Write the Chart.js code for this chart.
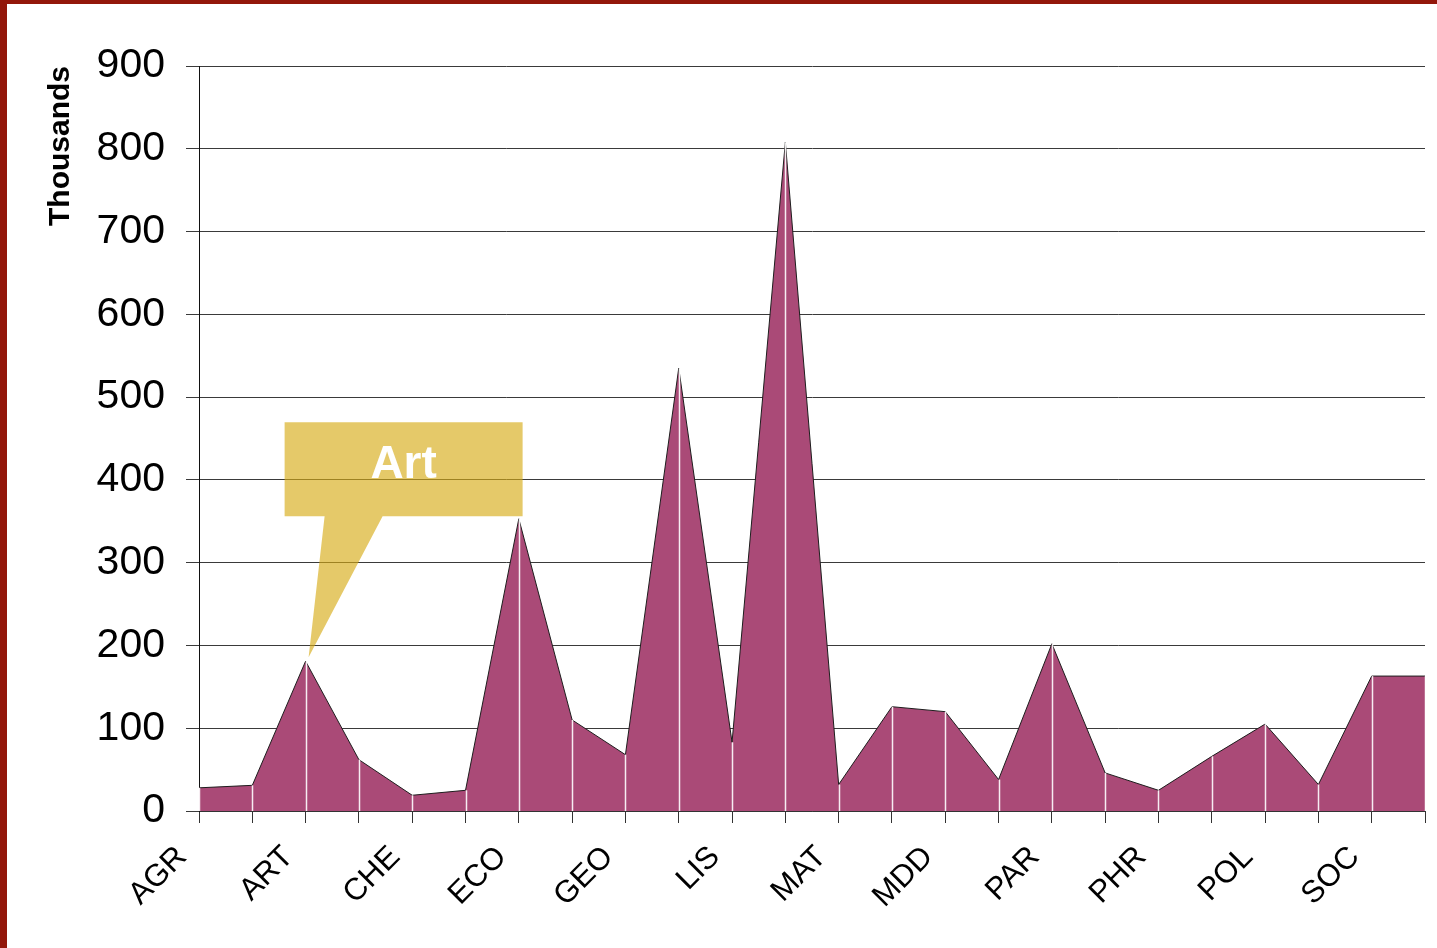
<!DOCTYPE html>
<html>
<head>
<meta charset="utf-8">
<title>Thousands by department</title>
<script src="https://cdn.jsdelivr.net/npm/chart.js@4.4.1/dist/chart.umd.min.js"></script>
<style>
  html, body { margin: 0; padding: 0; background: #fff; }
  #wrap { position: relative; width: 1437px; height: 948px; overflow: hidden; }
  #frame { position: absolute; left: 0; top: 0; right: 0; bottom: 0;
           border-left: 7px solid #93170a; border-top: 4px solid #93170a;
           pointer-events: none; }
  canvas { position: absolute; left: 0; top: 0; }
</style>
</head>
<body>
<div id="wrap">
  <canvas id="areaChart" width="1437" height="948"></canvas>
  <div id="frame"></div>
</div>
<script>
// --- DATA (every other category is labelled) ---
const categories = ['AGR', '', 'ART', '', 'CHE', '', 'ECO', '', 'GEO', '', 'LIS', '',
                    'MAT', '', 'MDD', '', 'PAR', '', 'PHR', '', 'POL', '', 'SOC', ''];
const values = [28, 31, 181, 62, 19, 25, 353, 110, 68, 535, 83, 808,
                32, 126, 120, 38, 202, 46, 25, 66, 105, 32, 163, 163];
const yMin = 0, yMax = 900, yStep = 100;
const yTitle = 'Thousands';
const calloutText = 'Art';
const calloutIndex = 2;

// white drop lines from every point down to the base
const dropLines = {
    id: 'dropLines',
    afterDatasetsDraw(chart) {
        const { ctx, scales: { y } } = chart;
        const base = y.getPixelForValue(0);
        ctx.save();
        ctx.strokeStyle = 'rgba(255,255,255,0.9)';
        ctx.lineWidth = 1.5;
        chart.getDatasetMeta(0).data.forEach(pt => {
            ctx.beginPath();
            ctx.moveTo(Math.round(pt.x) + 0.5, pt.y);
            ctx.lineTo(Math.round(pt.x) + 0.5, base);
            ctx.stroke();
        });
        ctx.restore();
    }
};

// yellow speech-bubble pointing at one point
const callout = {
    id: 'callout',
    afterDatasetsDraw(chart) {
        const { ctx } = chart;
        const pt = chart.getDatasetMeta(0).data[calloutIndex];
        const px = pt.x, py = pt.y;
        const left = px - 21, right = px + 217, top = py - 239, bottom = py - 145;
        ctx.save();
        ctx.fillStyle = 'rgba(214,170,20,0.64)';
        ctx.beginPath();
        ctx.moveTo(left, top);
        ctx.lineTo(right, top);
        ctx.lineTo(right, bottom);
        ctx.lineTo(px + 77, bottom);
        ctx.lineTo(px + 3, py - 4);
        ctx.lineTo(px + 19, bottom);
        ctx.lineTo(left, bottom);
        ctx.closePath();
        ctx.fill();
        ctx.fillStyle = '#ffffff';
        ctx.font = 'bold 46px "Liberation Sans", Arial, sans-serif';
        ctx.textAlign = 'center';
        ctx.textBaseline = 'alphabetic';
        ctx.fillText(calloutText, (left + right) / 2, top + 56);
        ctx.restore();
    }
};

const ctx = document.getElementById('areaChart').getContext('2d');
const chart = new Chart(ctx, {
    type: 'line',
    data: {
        labels: categories,
        datasets: [{
            data: values,
            fill: 'origin',
            backgroundColor: '#aa4a77',
            borderColor: '#1e1e1e',
            borderWidth: 1,
            tension: 0,
            pointRadius: 0,
            pointHoverRadius: 0
        }]
    },
    options: {
        responsive: false,
        animation: false,
        events: [],
        layout: { padding: { top: 66, right: 12, left: 0, bottom: 0 } },
        plugins: { legend: { display: false }, tooltip: { enabled: false } },
        scales: {
            x: {
                type: 'category',
                offset: false,
                afterFit: s => { s.height = 137; s.paddingRight = 0; s.paddingLeft = 0; },
                grid: { drawOnChartArea: false, drawTicks: true, tickLength: 12, color: '#333', lineWidth: 1 },
                border: { display: true, color: '#333', width: 1 },
                ticks: {
                    autoSkip: false, maxRotation: 45, minRotation: 45,
                    padding: 16, labelOffset: -17,
                    color: '#000',
                    font: { family: '"Liberation Sans", Arial, sans-serif', size: 31 }
                }
            },
            y: {
                min: yMin, max: yMax,
                afterFit: s => { s.width = 199; },
                grid: { color: '#3a3a3a', lineWidth: 1, drawTicks: true, tickLength: 13 },
                border: { display: true, color: '#111', width: 1 },
                ticks: {
                    stepSize: yStep, padding: 21, color: '#000',
                    font: { family: '"Liberation Sans", Arial, sans-serif', size: 41 }
                },
                title: {
                    display: true, text: yTitle, align: 'end', color: '#000',
                    padding: { top: 43, bottom: 0 },
                    font: { family: '"Liberation Sans", Arial, sans-serif', size: 30, weight: 'bold' }
                }
            }
        }
    },
    plugins: [dropLines, callout]
});
</script>
</body>
</html>
